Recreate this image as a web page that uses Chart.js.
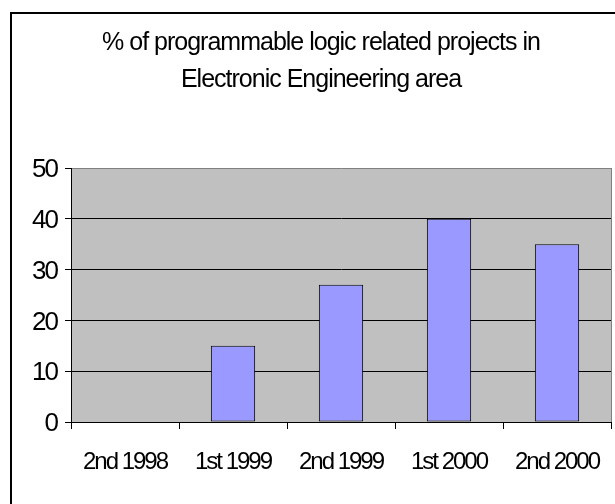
<!DOCTYPE html>
<html><head><meta charset="utf-8">
<script src="https://cdn.jsdelivr.net/npm/chart.js@4"></script>
<style>
html,body{margin:0;padding:0;background:#fff;overflow:hidden;width:615px;height:504px;}
#frame{position:absolute;left:10px;top:12px;width:700px;height:600px;border-left:2px solid #000;border-top:2px solid #000;}
canvas{position:absolute;left:0;top:0;}
</style></head><body>
<div id="frame"><canvas id="c" width="618" height="490"></canvas></div>
<script>
const categories = ['2nd 1998', '1st 1999', '2nd 1999', '1st 2000', '2nd 2000'];
const projectPercent = [0, 15, 27, 40, 35];
const yTicks = [0, 10, 20, 30, 40, 50];
const titleLines = ['% of programmable logic related projects in', 'Electronic Engineering area'];

const FONT = '"Liberation Sans", Arial, sans-serif';

const excelPlugin = {
  id: 'excelLook',
  beforeDraw(chart) {
    const ctx = chart.ctx;
    const wrap = (obj, name, sp) => {
      if (!obj || obj['_w_' + name]) return;
      const orig = obj[name];
      obj[name] = function (...a) {
        const prev = ctx.letterSpacing;
        ctx.letterSpacing = sp;
        try { return orig.apply(this, a); } finally { ctx.letterSpacing = prev; }
      };
      obj['_w_' + name] = true;
    };
    wrap(chart.titleBlock, 'draw', '-1px');
    wrap(chart.scales.x, 'drawLabels', '-2px');
    wrap(chart.scales.y, 'drawLabels', '-2px');
    const a = chart.chartArea;
    ctx.save();
    ctx.fillStyle = '#C0C0C0';
    ctx.fillRect(a.left, a.top, a.right - a.left, a.bottom - a.top);
    ctx.restore();
  },
  beforeDatasetsDraw(chart) {
    const ctx = chart.ctx, a = chart.chartArea;
    const x = Math.round(a.right - 0.5) + 0.5;
    ctx.save();
    ctx.strokeStyle = '#808080';
    ctx.lineWidth = 1;
    ctx.beginPath();
    ctx.moveTo(x, a.top);
    ctx.lineTo(x, a.bottom);
    ctx.stroke();
    ctx.restore();
  }
};

new Chart(document.getElementById('c'), {
  type: 'bar',
  data: {
    labels: categories,
    datasets: [{
      data: projectPercent,
      backgroundColor: '#9999FF',
      borderColor: '#000000',
      borderWidth: 1,
      borderSkipped: false,
      categoryPercentage: 1,
      barPercentage: 0.41
    }]
  },
  options: {
    responsive: false,
    animation: false,
    devicePixelRatio: 1,
    layout: { padding: 0 },
    plugins: {
      legend: { display: false },
      tooltip: { enabled: false },
      title: {
        display: true,
        text: titleLines,
        color: '#000',
        font: { family: FONT, size: 25, weight: 'normal', lineHeight: 1.49 },
        padding: { top: 10, bottom: 69.5 }
      }
    },
    scales: {
      x: {
        offset: true,
        grid: {
          offset: true,
          drawOnChartArea: false,
          drawTicks: true,
          tickLength: 7,
          color: '#000',
          tickColor: '#000',
          lineWidth: 1
        },
        border: { display: true, color: '#000', width: 1 },
        ticks: {
          color: '#000',
          font: { family: FONT, size: 24 },
          padding: 19,
          maxRotation: 0,
          autoSkip: false
        },
        afterFit(s) { s.height = 82; }
      },
      y: {
        min: 0,
        max: 50,
        afterBuildTicks(s) { s.ticks = yTicks.map(v => ({ value: v })); },
        grid: {
          drawOnChartArea: true,
          drawTicks: true,
          tickLength: 6,
          color: (c) => (c.tick && c.tick.value === 50) ? '#808080' : '#000',
          tickColor: '#000',
          lineWidth: 1
        },
        border: { display: true, color: '#000', width: 1 },
        ticks: {
          color: '#000',
          font: { family: FONT, size: 26 },
          padding: 8,
          labelOffset: 2
        },
        afterFit(s) { s.width = 59; }
      },
      yRightSpace: {
        type: 'linear',
        position: 'right',
        display: true,
        min: 0,
        max: 50,
        grid: { display: false, drawTicks: false },
        border: { display: false },
        ticks: { display: false },
        afterFit(s) { s.width = 19; }
      }
    }
  },
  plugins: [excelPlugin]
});
</script>
</body></html>
